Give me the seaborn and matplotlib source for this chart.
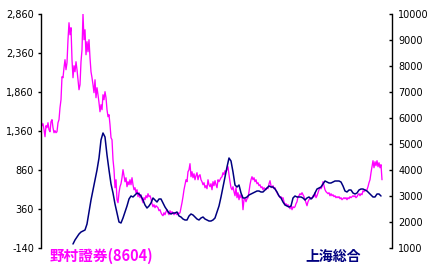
import numpy as np
import pandas as pd
import matplotlib
matplotlib.use("Agg")
import matplotlib.pyplot as plt
import seaborn as sns
from matplotlib.ticker import FuncFormatter

# ---- data ----
nomura_label = "野村證券(8604)"
shanghai_label = "上海総合"

nomura_price = [
    1505, 1428, 1453, 1376, 1287, 1428, 1402, 1466, 1376, 1351,
    1479, 1505, 1402, 1338, 1364, 1338, 1351, 1466, 1505, 1659,
    1761, 2056, 2043, 2171, 2274, 2146, 2235, 2530, 2748, 2594,
    2684, 2274, 2043, 2197, 2120, 2248, 2146, 2017, 1889, 1953,
    2248, 2402, 2860, 2530, 2658, 2338, 2505, 2376, 2530, 2299,
    2120, 2043, 1953, 1851, 2017, 1787, 1915, 1825, 1723, 1607,
    1697, 1633, 1825, 1761, 1864, 1787, 1633, 1543, 1569, 1441,
    1274, 1248, 992, 864, 633, 735, 479, 441, 569, 646,
    684, 761, 864, 787, 710, 761, 646, 710, 671, 735,
    671, 761, 671, 607, 633, 569, 607, 518, 569, 505,
    543, 479, 441, 505, 479, 530, 505, 556, 518, 530,
    492, 428, 389, 415, 377, 402, 389, 377, 338, 351,
    312, 287, 274, 312, 287, 325, 351, 312, 287, 338,
    300, 325, 312, 287, 312, 300, 287, 312, 300, 312,
    377, 441, 518, 607, 671, 735, 710, 838, 864, 941,
    774, 838, 761, 812, 735, 787, 825, 735, 787, 800,
    735, 710, 671, 697, 633, 659, 620, 735, 671, 646,
    684, 607, 710, 659, 723, 671, 633, 735, 710, 735,
    761, 774, 825, 800, 851, 838, 864, 902, 800, 710,
    633, 607, 646, 582, 530, 633, 505, 569, 479, 543,
    505, 530, 351, 479, 492, 453, 492, 505, 582, 671,
    735, 774, 735, 761, 710, 735, 684, 697, 659, 671,
    633, 646, 607, 633, 620, 607, 633, 620, 684, 723,
    659, 633, 659, 620, 633, 594, 569, 543, 530, 505,
    518, 492, 505, 453, 415, 428, 402, 415, 389, 364,
    402, 351, 389, 377, 389, 428, 453, 518, 530, 556,
    543, 569, 543, 518, 479, 441, 402, 453, 479, 492,
    505, 492, 530, 518, 569, 505, 530, 569, 607, 633,
    620, 646, 710, 659, 607, 582, 569, 556, 569, 530,
    556, 530, 543, 518, 530, 505, 518, 505, 518, 492,
    505, 479, 492, 505, 492, 505, 479, 505, 492, 518,
    505, 518, 530, 518, 530, 505, 518, 543, 556, 530,
    556, 543, 594, 582, 607, 594, 607, 646, 697, 735,
    825, 902, 979, 889, 966, 915, 979, 902, 953, 889,
    928, 735,
]
nomura_start = 0      # first period of the Nomura series
nomura_step = 1

shanghai_index = [
    1154, 1308, 1423, 1538, 1615, 1654, 1692, 1923, 2385, 2846,
    3231, 3615, 4000, 4461, 5154, 5423, 5269, 4577, 4000, 3462,
    3115, 2692, 2346, 2000, 1962, 2154, 2385, 2615, 2885, 3000,
    2962, 3038, 3115, 3077, 3000, 2846, 2654, 2538, 2615, 2731,
    2923, 2846, 2769, 2885, 2885, 2731, 2577, 2462, 2346, 2308,
    2346, 2346, 2385, 2231, 2192, 2115, 2077, 2077, 2231, 2308,
    2269, 2192, 2115, 2077, 2154, 2192, 2115, 2077, 2038, 2038,
    2077, 2154, 2385, 2615, 2962, 3346, 3731, 4115, 4461, 4346,
    3923, 3423, 3346, 3423, 3115, 2923, 2923, 2962, 3038, 3077,
    3115, 3154, 3192, 3192, 3154, 3154, 3231, 3308, 3385, 3346,
    3346, 3269, 3154, 3000, 2923, 2769, 2654, 2615, 2577, 2615,
    2923, 3000, 2962, 2962, 2962, 2923, 2846, 2923, 2962, 2885,
    2962, 3115, 3269, 3308, 3346, 3462, 3577, 3538, 3500, 3500,
    3538, 3577, 3577, 3577, 3538, 3385, 3192, 3154, 3231, 3231,
    3115, 3077, 3115, 3231, 3269, 3269, 3231, 3192, 3115, 3038,
    2962, 2962, 3077, 3077, 3000,
]
shanghai_start = 32   # Shanghai series begins later
shanghai_step = 2

left_ticks = [-140, 360, 860, 1360, 1860, 2360, 2860]
right_ticks = [1000, 2000, 3000, 4000, 5000, 6000, 7000, 8000, 9000, 10000]

MAGENTA = "#FF00FF"
NAVY = "#000080"

nomura_df = pd.DataFrame({
    "t": nomura_start + nomura_step * np.arange(len(nomura_price)),
    "price": nomura_price,
})
shanghai_df = pd.DataFrame({
    "t": shanghai_start + shanghai_step * np.arange(len(shanghai_index)),
    "index": shanghai_index,
})

sns.set_style("white")
plt.rcParams["font.family"] = ["DejaVu Sans"]

fig = plt.figure(figsize=(4.36, 2.72), dpi=100)
ax = fig.add_axes([41 / 436, 1 - 248 / 272, (392 - 41) / 436, (248 - 14) / 272])
ax2 = ax.twinx()

sns.lineplot(data=nomura_df, x="t", y="price", ax=ax, color=MAGENTA,
             linewidth=0.95, legend=False)
sns.lineplot(data=shanghai_df, x="t", y="index", ax=ax2, color=NAVY,
             linewidth=1.1, legend=False)

ax.set_xlim(0, 351)
ax.set_ylim(left_ticks[0], left_ticks[-1])
ax2.set_ylim(right_ticks[0], right_ticks[-1])
ax.set_yticks(left_ticks)
ax2.set_yticks(right_ticks)
ax.yaxis.set_major_formatter(FuncFormatter(lambda v, p: f"{int(v):,}"))
ax2.yaxis.set_major_formatter(FuncFormatter(lambda v, p: f"{int(v)}"))

for a in (ax, ax2):
    a.set_xlabel("")
    a.set_ylabel("")
    a.set_xticks([])
    a.grid(False)
    a.patch.set_visible(False)
    for s in ("top", "bottom"):
        a.spines[s].set_visible(False)
    for s in ("left", "right"):
        a.spines[s].set_color("black")
        a.spines[s].set_linewidth(1.0)

ax.spines["right"].set_visible(False)
ax2.spines["left"].set_visible(False)
ax.tick_params(axis="y", direction="out", length=2.5, width=1.0,
               pad=2.5, labelsize=7, colors="black", left=True)
ax2.tick_params(axis="y", direction="in", length=2.5, width=1.0,
                pad=4.5, labelsize=7, colors="black", right=True)

cjk = ["Noto Sans CJK JP", "DejaVu Sans"]
fig.text(50 / 436, 1 - 256 / 272, nomura_label, color=MAGENTA,
         fontsize=10.5, fontweight="bold", family=cjk, va="center", ha="left")
fig.text(305 / 436, 1 - 257 / 272, shanghai_label, color=NAVY,
         fontsize=10, fontweight="bold", family=cjk, va="center", ha="left")

fig.savefig("out.png", dpi=100)
